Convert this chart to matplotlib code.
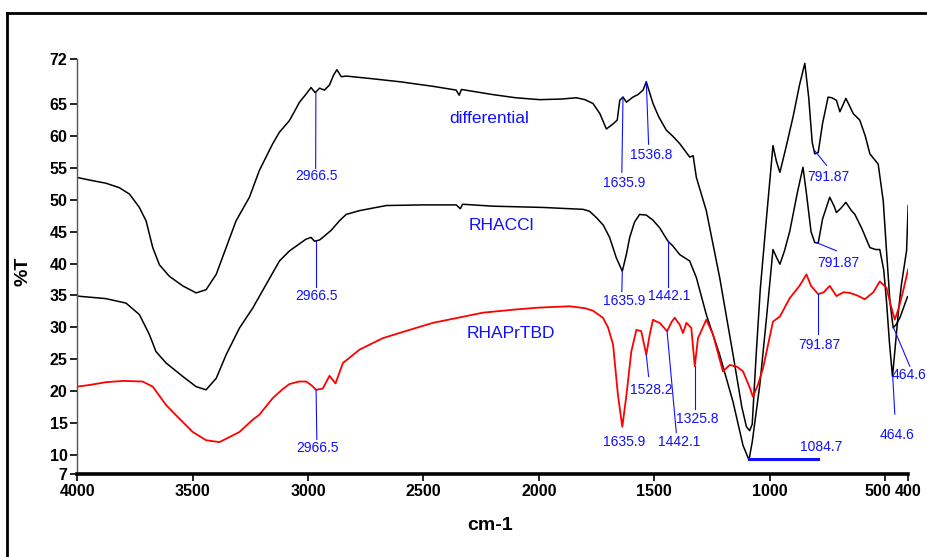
import matplotlib
matplotlib.use("Agg")
import matplotlib.pyplot as plt
from matplotlib.lines import Line2D
from matplotlib.transforms import ScaledTranslation

# FTIR spectra, wavenumber (cm-1) vs %T
diff_wn = [4000, 3948, 3876, 3818, 3774, 3731, 3702, 3673, 3644, 3601, 3543, 3485, 3442, 3398,
           3355, 3312, 3254, 3211, 3153, 3124, 3081, 3052, 3037, 3010, 2987, 2969, 2950, 2929,
           2907, 2890, 2875, 2856, 2835, 2726, 2600, 2460, 2358, 2345, 2335, 2200, 2100, 1996,
           1900, 1837, 1800, 1765, 1735, 1707, 1678, 1660, 1649, 1635, 1620, 1592, 1570, 1548,
           1534, 1505, 1480, 1447, 1420, 1389, 1346, 1331, 1317, 1274, 1216, 1158, 1120, 1100,
           1086, 1075, 1057, 1040, 1013, 985, 970, 955, 930, 898, 870, 847, 830, 815, 804, 789,
           770, 746, 730, 710, 695, 669, 650, 637, 609, 585, 565, 529, 507, 493, 478, 464, 450,
           435, 420, 402]
diff_t = [53.5, 53.1, 52.6, 51.9, 50.9, 48.8, 46.7, 42.5, 39.8, 38.0, 36.5, 35.4, 35.9, 38.3,
          42.5, 46.7, 50.4, 54.6, 58.8, 60.6, 62.4, 64.3, 65.3, 66.5, 67.6, 66.8, 67.5, 67.2,
          68.0, 69.5, 70.4, 69.3, 69.4, 69.0, 68.5, 67.8, 67.2, 66.4, 67.3, 66.5, 66.0, 65.7,
          65.8, 66.0, 65.7, 65.1, 63.5, 61.1, 61.9, 62.5, 65.6, 66.1, 65.3, 66.1, 66.5, 67.2,
          68.5, 65.1, 63.0, 60.9, 60.0, 58.8, 56.7, 56.9, 53.5, 48.3, 37.8, 25.7, 17.5, 14.4,
          13.8, 14.8, 26.2, 36.0, 47.2, 58.5, 56.0, 54.3, 58.0, 63.0, 68.0, 71.4, 66.0, 59.0,
          57.2, 57.4, 62.0, 66.1, 66.0, 65.6, 63.8, 65.9, 64.5, 63.5, 62.5, 60.0, 57.2, 55.6,
          49.8, 42.0, 34.0, 29.9, 30.5, 31.5, 33.0, 34.8]

rhaccl_wn = [4000, 3876, 3789, 3731, 3688, 3659, 3615, 3543, 3485, 3442, 3398, 3355, 3297, 3240,
             3182, 3124, 3080, 3037, 3010, 2987, 2972, 2950, 2936, 2900, 2864, 2835, 2777, 2661,
             2500, 2358, 2340, 2330, 2200, 1982, 1808, 1780, 1750, 1720, 1693, 1664, 1638, 1620,
             1606, 1585, 1563, 1534, 1505, 1476, 1440, 1420, 1389, 1346, 1317, 1274, 1216, 1158,
             1115, 1089, 1075, 1042, 1013, 985, 970, 955, 935, 912, 880, 855, 840, 820, 804, 789,
             770, 739, 720, 710, 690, 669, 645, 630, 600, 565, 540, 522, 505, 493, 480, 467, 457,
             440, 428, 406, 399]
rhaccl_t = [34.9, 34.5, 33.8, 32.0, 28.9, 26.2, 24.4, 22.3, 20.7, 20.2, 22.0, 25.7, 29.9, 33.0,
            36.7, 40.4, 42.0, 43.1, 43.8, 44.1, 43.5, 43.7, 44.1, 45.2, 46.7, 47.7, 48.3, 49.1,
            49.2, 49.2, 48.6, 49.3, 49.0, 48.8, 48.5, 48.2, 47.2, 46.0, 44.1, 40.9, 38.8, 41.5,
            44.1, 46.5, 47.7, 47.6, 46.8, 45.6, 43.5, 42.8, 41.4, 40.4, 37.8, 32.0, 25.7, 18.3,
            11.5, 9.2, 12.0, 21.0, 31.5, 42.2, 41.0, 39.9, 42.0, 45.1, 51.0, 55.1, 51.0, 45.0,
            43.3, 43.2, 47.0, 50.4, 49.0, 48.0, 48.7, 49.6, 48.3, 47.7, 45.5, 42.5, 42.2, 42.2,
            39.0, 34.1, 27.5, 22.3, 26.2, 33.0, 36.8, 42.0, 49.1]

red_wn = [4000, 3940, 3876, 3800, 3717, 3673, 3615, 3558, 3500, 3442, 3384, 3340, 3297, 3240,
          3211, 3153, 3110, 3081, 3040, 3008, 2985, 2965, 2936, 2907, 2881, 2849, 2777, 2676,
          2560, 2459, 2350, 2242, 2100, 1996, 1866, 1800, 1765, 1722, 1700, 1678, 1657, 1638,
          1620, 1599, 1577, 1556, 1534, 1519, 1505, 1490, 1476, 1444, 1425, 1411, 1389, 1375,
          1360, 1339, 1324, 1310, 1274, 1245, 1202, 1172, 1140, 1115, 1085, 1072, 1050, 1028,
          985, 955, 912, 870, 840, 820, 789, 765, 739, 710, 680, 652, 620, 587, 550, 522, 493,
          475, 457, 440, 421, 399]
red_t = [20.7, 21.0, 21.4, 21.6, 21.5, 20.7, 17.8, 15.7, 13.6, 12.3, 12.0, 12.8, 13.6, 15.5,
         16.3, 18.9, 20.3, 21.1, 21.5, 21.5, 20.9, 20.2, 20.4, 22.4, 21.2, 24.4, 26.5, 28.3,
         29.6, 30.7, 31.5, 32.3, 32.8, 33.1, 33.3, 33.0, 32.6, 31.5, 30.0, 27.3, 19.4, 14.4,
         19.4, 26.2, 29.6, 29.4, 25.7, 28.9, 31.2, 30.9, 30.7, 29.4, 30.8, 31.5, 30.4, 29.1,
         30.7, 29.9, 23.9, 28.3, 31.2, 28.9, 23.1, 24.1, 23.8, 23.1, 20.5, 19.1, 21.0, 23.6,
         30.9, 31.7, 34.6, 36.5, 38.3, 36.5, 35.2, 35.5, 36.5, 34.9, 35.5, 35.4, 35.0, 34.4,
         35.5, 37.2, 36.2, 33.5, 31.2, 33.0, 35.7, 39.1]

# peak labels: text, label x, label y, leader line (x0, y0, x1, y1) or None
peak_text = ["2966.5", "2966.5", "2966.5", "1635.9", "1536.8", "1635.9", "1442.1",
             "1528.2", "1442.1", "1325.8", "1635.9", "791.87", "791.87", "791.87",
             "464.6", "464.6"]
peak_x = [2965, 2965, 2958, 1631, 1512, 1631, 1433, 1512, 1392, 1314, 1631, 746, 703, 782, 394, 449]
peak_y = [53.8, 34.9, 11.0, 52.7, 57.1, 34.1, 34.9, 20.2, 12.0, 15.7, 12.0, 53.5, 40.1, 27.3, 22.5, 13.1]
peak_lines = [(2966, 66.8, 2967, 54.9), (2966, 43.5, 2966, 36.3), (2965, 20.2, 2962, 12.4),
              (1635, 66.1, 1640, 54.3), (1534, 68.5, 1524, 58.7), (1638, 38.8, 1640, 35.6),
              (1442, 43.5, 1442, 36.3), (1534, 25.7, 1524, 22.3), (1444, 29.4, 1404, 13.5),
              (1324, 23.9, 1324, 17.2), None, (804, 57.7, 753, 55.4), (797, 43.3, 710, 42.0),
              (789, 35.2, 789, 29.0), (462, 29.9, 392, 23.9), (466, 22.3, 457, 16.4)]

names = ["differential", "RHACCl", "RHAPrTBD"]
name_x = [2213, 2162, 2119]
name_y = [62.7, 45.9, 29.1]

xticks = [4000, 3500, 3000, 2500, 2000, 1500, 1000, 500, 400]
yticks = [7, 10, 15, 20, 25, 30, 35, 40, 45, 50, 55, 60, 65, 72]

plt.rcParams["font.family"] = ["Liberation Sans", "DejaVu Sans"]

fig = plt.figure(figsize=(9.28, 5.57), dpi=100)
ax = fig.add_axes([0.0833, 0.149, 0.8951, 0.7442])

ax.plot(diff_wn, diff_t, color="black", lw=1.1)
ax.plot(rhaccl_wn, rhaccl_t, color="black", lw=1.1)
ax.plot(red_wn, red_t, color="red", lw=1.3)

blue = "#1010ff"
for txt, x, y, ln in zip(peak_text, peak_x, peak_y, peak_lines):
    ax.text(x, y, txt, color=blue, fontsize=10, ha="center", va="center", clip_on=False)
    if ln is not None:
        ax.plot([ln[0], ln[2]], [ln[1], ln[3]], color=blue, lw=0.8, clip_on=False)
# the 1084.7 marker is a thick horizontal bar
ax.plot([1089, 789], [9.3, 9.3], color=blue, lw=2.2)
ax.text(778, 11.3, "1084.7", color=blue, fontsize=10, ha="center", va="center")

for n, x, y in zip(names, name_x, name_y):
    ax.text(x, y, n, color=blue, fontsize=12.5, ha="center", va="center")

ax.set_xlim(4000, 400)
ax.set_ylim(7, 72)
ax.set_xticks(xticks)
ax.set_yticks(yticks)
ax.tick_params(axis="both", labelsize=11.5, length=5, width=1.2, pad=2)
for lab in ax.get_xticklabels() + ax.get_yticklabels():
    lab.set_fontweight("bold")
# squeeze "500" up against "400" like the original
t500 = ax.xaxis.get_major_ticks()[-2].label1
t500.set_horizontalalignment("right")
t500.set_transform(t500.get_transform() + ScaledTranslation(6 / 100, 0, fig.dpi_scale_trans))

for s in ["top", "right"]:
    ax.spines[s].set_visible(False)
ax.spines["left"].set_color("#555555")
ax.spines["left"].set_linewidth(1.0)
ax.spines["bottom"].set_linewidth(2.6)

ax.set_xlabel("cm-1", fontsize=14, fontweight="bold")
ax.set_ylabel("%T", fontsize=14, fontweight="bold")
ax.xaxis.set_label_coords(0.497, -0.104)
ax.yaxis.set_label_coords(-0.055, 0.49)

# outer frame (top and left edges)
fig.add_artist(Line2D([0.0079, 1.0], [0.977, 0.977], color="black", lw=2, transform=fig.transFigure))
fig.add_artist(Line2D([0.0079, 0.0079], [0.0, 0.977], color="black", lw=2, transform=fig.transFigure))

fig.savefig("out.png", dpi=100)
